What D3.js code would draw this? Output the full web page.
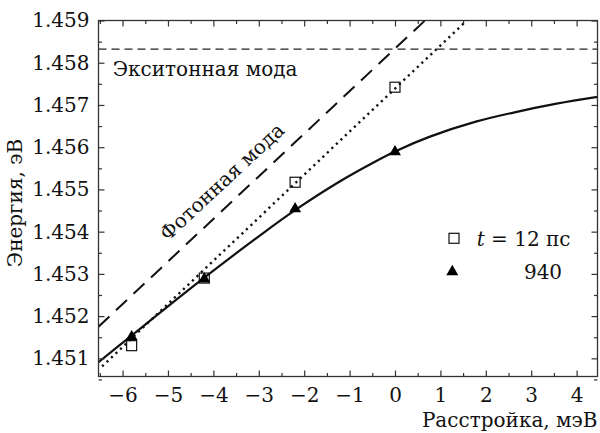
<!DOCTYPE html>
<html>
<head>
<meta charset="utf-8">
<script src="https://cdn.jsdelivr.net/npm/d3@7"></script>
<style>
  body { margin: 0; background: #fff; }
  svg text { font-family: "DejaVu Serif", serif; fill: #111; }
</style>
</head>
<body>
<div id="chart"></div>
<script>
// measured points (detuning, meV)
var detuning = [-5.8, -4.2, -2.2, 0]
var energy12ps = [1.45130, 1.45290, 1.45517, 1.45742]
var energy940 = [1.45151, 1.45288, 1.45454, 1.45589]

// solid curve through the 940 points
var curveX = [-6.53, -5.8, -5.0, -4.2, -3.0, -2.2, -1.2, -0.4, 0, 0.77, 1.8, 2.61, 3.56, 4.46]
var curveY = [1.45091, 1.45154, 1.45223, 1.45291, 1.45389, 1.45451, 1.45520, 1.45568, 1.45590, 1.45625, 1.45661, 1.45682, 1.45703, 1.45719]

// straight lines
var photonX = [-6.53, 0.66]
var photonY = [1.45175, 1.459]
var dottedX = [-6.45, 1.58]
var dottedY = [1.45081, 1.459]
var excitonEnergy = 1.45832

var xTicks = [-6, -5, -4, -3, -2, -1, 0, 1, 2, 3, 4]
var yTicks = [1.451, 1.452, 1.453, 1.454, 1.455, 1.456, 1.457, 1.458, 1.459]

var width = 600
var height = 433
var plotLeft = 98.5, plotRight = 597.5, plotTop = 20.5, plotBottom = 376.5

var x = d3.scaleLinear().domain([-6.53, 4.46]).range([plotLeft, plotRight])
var y = d3.scaleLinear().domain([1.45057, 1.459]).range([plotBottom, plotTop])

var svg = d3.select("#chart").append("svg")
  .attr("width", width)
  .attr("height", height)

svg.append("clipPath").attr("id", "plot")
  .append("rect")
  .attr("x", plotLeft).attr("y", plotTop)
  .attr("width", plotRight - plotLeft).attr("height", plotBottom - plotTop)

var plot = svg.append("g").attr("clip-path", "url(#plot)")

// exciton mode
plot.append("line")
  .attr("x1", plotLeft).attr("x2", plotRight)
  .attr("y1", y(excitonEnergy)).attr("y2", y(excitonEnergy))
  .attr("stroke", "#222")
  .attr("stroke-width", 1.3)
  .attr("stroke-dasharray", "8,5")

var line = d3.line()
  .x(function(d) { return x(d[0]) })
  .y(function(d) { return y(d[1]) })

// photon mode
plot.append("path")
  .attr("d", line(d3.zip(photonX, photonY)))
  .attr("fill", "none")
  .attr("stroke", "#111")
  .attr("stroke-width", 2)
  .attr("stroke-dasharray", "15,9")

plot.append("path")
  .attr("d", line(d3.zip(dottedX, dottedY)))
  .attr("fill", "none")
  .attr("stroke", "#111")
  .attr("stroke-width", 2.4)
  .attr("stroke-dasharray", "2.2,4")

plot.append("path")
  .attr("d", line.curve(d3.curveCatmullRom)(d3.zip(curveX, curveY)))
  .attr("fill", "none")
  .attr("stroke", "#111")
  .attr("stroke-width", 2.2)

// markers
var sq = 10
svg.selectAll("rect.m12")
  .data(d3.zip(detuning, energy12ps))
  .enter()
  .append("rect")
  .attr("class", "m12")
  .attr("x", function(d) { return x(d[0]) - sq / 2 })
  .attr("y", function(d) { return y(d[1]) - sq / 2 })
  .attr("width", sq)
  .attr("height", sq)
  .attr("fill", "none")
  .attr("stroke", "#111")
  .attr("stroke-width", 1.2)

var tri = d3.symbol().type(d3.symbolTriangle).size(62)
svg.selectAll("path.m940")
  .data(d3.zip(detuning, energy940))
  .enter()
  .append("path")
  .attr("class", "m940")
  .attr("d", tri)
  .attr("transform", function(d) { return "translate(" + x(d[0]) + "," + y(d[1]) + ")" })
  .attr("fill", "#000")

// axes with inward ticks
function styleAxis(g) {
  g.select(".domain").remove()
  g.selectAll(".tick line").attr("stroke", "#333").attr("stroke-width", 1.2)
  g.selectAll(".tick text").attr("font-size", "20px").attr("font-family", "DejaVu Serif")
}

var xMinor = d3.range(-6.5, 4.5, 1)
var yMinor = yTicks.map(function(v) { return v - 0.0005 })

svg.append("g").attr("transform", "translate(0," + plotBottom + ")")
  .call(d3.axisBottom(x).tickValues(xTicks).tickSize(-6).tickPadding(11).tickFormat(d3.format("d")))
  .call(styleAxis)
svg.append("g").attr("transform", "translate(0," + plotBottom + ")")
  .call(d3.axisBottom(x).tickValues(xMinor).tickSize(-3.5).tickFormat(""))
  .call(styleAxis)
svg.append("g").attr("transform", "translate(0," + plotTop + ")")
  .call(d3.axisTop(x).tickValues(xTicks).tickSize(-6).tickFormat(""))
  .call(styleAxis)
svg.append("g").attr("transform", "translate(0," + plotTop + ")")
  .call(d3.axisTop(x).tickValues(xMinor).tickSize(-3.5).tickFormat(""))
  .call(styleAxis)

svg.append("g").attr("transform", "translate(" + plotLeft + ",0)")
  .call(d3.axisLeft(y).tickValues(yTicks).tickSize(-6).tickPadding(9).tickFormat(d3.format(".3f")))
  .call(styleAxis)
svg.append("g").attr("transform", "translate(" + plotLeft + ",0)")
  .call(d3.axisLeft(y).tickValues(yMinor).tickSize(-3.5).tickFormat(""))
  .call(styleAxis)
svg.append("g").attr("transform", "translate(" + plotRight + ",0)")
  .call(d3.axisRight(y).tickValues(yTicks).tickSize(-6).tickFormat(""))
  .call(styleAxis)
svg.append("g").attr("transform", "translate(" + plotRight + ",0)")
  .call(d3.axisRight(y).tickValues(yMinor).tickSize(-3.5).tickFormat(""))
  .call(styleAxis)

svg.append("rect")
  .attr("x", plotLeft).attr("y", plotTop)
  .attr("width", plotRight - plotLeft).attr("height", plotBottom - plotTop)
  .attr("fill", "none")
  .attr("stroke", "#333")
  .attr("stroke-width", 1.3)

// labels
svg.append("text")
  .attr("x", plotRight).attr("y", 427)
  .attr("text-anchor", "end")
  .attr("font-size", "20px")
  .text("Расстройка, мэВ")

svg.append("text")
  .attr("transform", "translate(22,203) rotate(-90)")
  .attr("text-anchor", "middle")
  .attr("font-size", "20px")
  .text("Энергия, эВ")

svg.append("text")
  .attr("x", 112.7).attr("y", 76)
  .attr("font-size", "20px")
  .text("Экситонная мода")

svg.append("text")
  .attr("transform", "translate(226.7,186.7) rotate(-43)")
  .attr("text-anchor", "middle")
  .attr("font-size", "20px")
  .text("Фотонная мода")

// legend
svg.append("rect")
  .attr("x", 454 - sq / 2).attr("y", 238.3 - sq / 2)
  .attr("width", sq).attr("height", sq)
  .attr("fill", "none").attr("stroke", "#111").attr("stroke-width", 1.2)

svg.append("path")
  .attr("d", tri)
  .attr("transform", "translate(452.3,271.7)")
  .attr("fill", "#000")

var leg1 = svg.append("text")
  .attr("x", 476.7).attr("y", 246)
  .attr("font-size", "20px")
leg1.append("tspan").attr("font-style", "italic").text("t")
leg1.append("tspan").text(" = 12 пс")

svg.append("text")
  .attr("x", 543).attr("y", 279.3)
  .attr("text-anchor", "middle")
  .attr("font-size", "20px")
  .text("940")
</script>
</body>
</html>
